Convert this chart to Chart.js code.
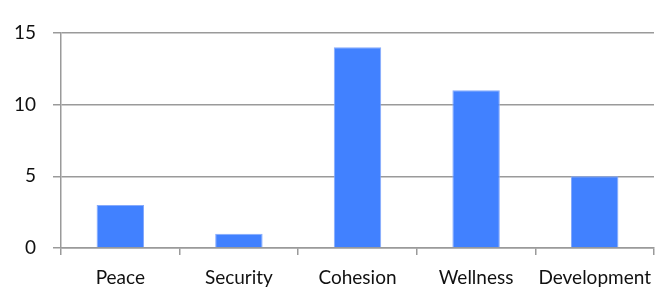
<!DOCTYPE html>
<html>
<head>
<meta charset="utf-8">
<script src="https://cdn.jsdelivr.net/npm/chart.js@4"></script>
<style>
  html, body { margin: 0; padding: 0; background: #fff; }
  #wrap { width: 659px; height: 293px; }
</style>
</head>
<body>
<div id="wrap"><canvas id="grafico"></canvas></div>
<script>
const categorias = ['Peace', 'Security', 'Cohesion', 'Wellness', 'Development'];
const valores = [3, 1, 14, 11, 5];
const ticksY = [0, 5, 10, 15];

const ctx = document.getElementById('grafico');
new Chart(ctx, {
  type: 'bar',
  data: {
    labels: categorias,
    datasets: [{
      data: valores,
      backgroundColor: '#4181ff',
      borderColor: '#86aafc',
      borderWidth: 1,
      barPercentage: 0.4,
      categoryPercentage: 1
    }]
  },
  options: {
    responsive: true,
    maintainAspectRatio: false,
    animation: false,
    layout: { padding: { top: 33, right: 5, left: 0, bottom: 0 } },
    plugins: {
      legend: { display: false },
      tooltip: { enabled: false }
    },
    scales: {
      x: {
        grid: {
          offset: true,
          drawOnChartArea: false,
          drawTicks: true,
          tickLength: 7,
          color: '#9a9a9a',
          lineWidth: 1.5
        },
        border: { color: '#9a9a9a', width: 1.5 },
        ticks: {
          color: '#111',
          padding: 11,
          maxRotation: 0,
          font: { family: 'Lato', size: 19 }
        },
        afterFit: s => {
          s.height = 45;
          s.paddingLeft = 0;
          s.paddingRight = 0;
        }
      },
      y: {
        min: 0,
        max: 15,
        afterBuildTicks: s => { s.ticks = ticksY.map(v => ({ value: v })); },
        grid: {
          color: '#9a9a9a',
          lineWidth: 1.5,
          tickLength: 8
        },
        border: { color: '#9a9a9a', width: 1.5 },
        ticks: {
          color: '#111',
          padding: 17,
          font: { family: 'Lato', size: 19 }
        },
        afterFit: s => {
          s.width = 61;
          s.paddingTop = 0;
          s.paddingBottom = 0;
        }
      }
    }
  }
});
</script>
</body>
</html>
